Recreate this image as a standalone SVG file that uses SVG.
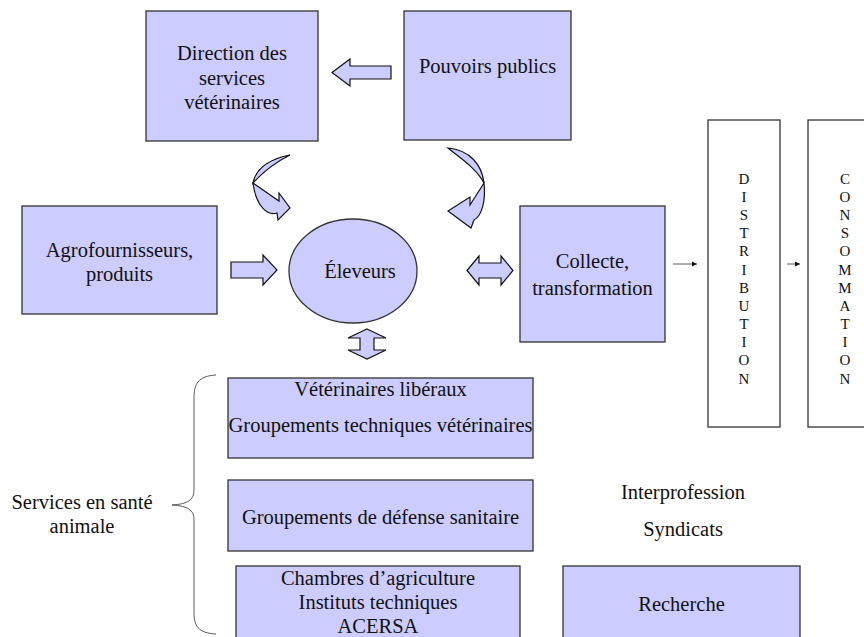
<svg xmlns="http://www.w3.org/2000/svg" width="864" height="637" viewBox="0 0 864 637">
<defs>
<style>
.box{fill:#ccccff;stroke:#333;stroke-width:1.3}
.wbox{fill:#fff;stroke:#333;stroke-width:1.3}
.arr{fill:#ccccff;stroke:#111;stroke-width:1.2;stroke-linejoin:miter}
text{font-family:"Liberation Serif","Times New Roman",serif;font-size:20.5px;fill:#111;text-anchor:middle}
.v{font-size:15px}
.ln{stroke:#333;stroke-width:0.8;fill:none}
</style>
<marker id="ah" markerWidth="6" markerHeight="6" refX="5" refY="3" orient="auto" markerUnits="userSpaceOnUse">
<path d="M0,0.5 L5,3 L0,5.5 Z" fill="#111"/>
</marker>
</defs>
<rect width="864" height="637" fill="#fff"/>

<g id="connectors">
<path class="arr" d="M391,66 L350,66 L350,59 L332,72.5 L350,86 L350,79 L391,79 Z"/>
<path class="arr" d="M231,262 L263,262 L263,255 L277,270 L263,285 L263,278 L231,278 Z"/>
<path class="arr" d="M467,270.5 L479,256 L479,263 L501,263 L501,256 L513,270.5 L501,285 L501,278 L479,278 L479,285 Z"/>
<path class="arr" d="M367,329 L386,338 L374,338 L374,350 L386,350 L367,359 L348,350 L360,350 L360,338 L348,338 Z"/>
<path class="arr" d="M290,155 C270,159 256,168 253,183 C262,173 276,162 290,155 Z"/>
<path class="arr" d="M253,183 L279,201 L279,193 L290,208 L278,220 L277,213 C268,216 256,207 253,183 Z"/>
<path class="arr" d="M448,148 C470,150 482,165 484,183 C476,168 460,158 448,148 Z"/>
<path class="arr" d="M484,183 L470,205 L470,197 L448,211 L471,228 L474,220 C482,216 486,200 484,183 Z"/>
<line class="ln" x1="673" y1="264" x2="697" y2="264" marker-end="url(#ah)"/>
<line class="ln" x1="787" y1="264" x2="800" y2="264" marker-end="url(#ah)"/>
<path class="ln" d="M216,375 C198,376 194,384 194,398 L194,490 C194,500 188,504 172,505 C188,506 194,510 194,520 L194,612 C194,626 198,633 216,634" stroke-width="1.2"/>
</g>

<g id="direction">
<rect class="box" x="146" y="11" width="172" height="130"/>
<text x="232" y="60">Direction des</text>
<text x="232" y="85">services</text>
<text x="232" y="109">vétérinaires</text>
</g>
<g id="pouvoirs">
<rect class="box" x="404" y="11" width="167" height="129"/>
<text x="487.5" y="73">Pouvoirs publics</text>
</g>
<g id="agro">
<rect class="box" x="22" y="206" width="195" height="108"/>
<text x="119.5" y="257">Agrofournisseurs,</text>
<text x="119.5" y="281">produits</text>
</g>
<g id="eleveurs">
<ellipse class="box" cx="353" cy="271" rx="64" ry="52"/>
<text x="360" y="278">Éleveurs</text>
</g>
<g id="collecte">
<rect class="box" x="520" y="206" width="145" height="136"/>
<text x="592.5" y="268">Collecte,</text>
<text x="592.5" y="295">transformation</text>
</g>
<g id="distribution">
<rect class="wbox" x="708" y="120" width="72" height="307"/>
<text class="v" x="744" y="184">D</text>
<text class="v" x="744" y="202">I</text>
<text class="v" x="744" y="220">S</text>
<text class="v" x="744" y="238">T</text>
<text class="v" x="744" y="256">R</text>
<text class="v" x="744" y="275">I</text>
<text class="v" x="744" y="293">B</text>
<text class="v" x="744" y="311">U</text>
<text class="v" x="744" y="329">T</text>
<text class="v" x="744" y="347">I</text>
<text class="v" x="744" y="365">O</text>
<text class="v" x="744" y="384">N</text>
</g>
<g id="consommation">
<rect class="wbox" x="808" y="120" width="70" height="307"/>
<text class="v" x="845" y="184">C</text>
<text class="v" x="845" y="202">O</text>
<text class="v" x="845" y="220">N</text>
<text class="v" x="845" y="238">S</text>
<text class="v" x="845" y="256">O</text>
<text class="v" x="845" y="275">M</text>
<text class="v" x="845" y="293">M</text>
<text class="v" x="845" y="311">A</text>
<text class="v" x="845" y="329">T</text>
<text class="v" x="845" y="347">I</text>
<text class="v" x="845" y="365">O</text>
<text class="v" x="845" y="384">N</text>
</g>
<g id="services-label">
<text x="82" y="509">Services en santé</text>
<text x="82" y="533">animale</text>
</g>
<g id="veterinaires">
<rect class="box" x="228" y="378" width="305" height="80"/>
<text x="380.5" y="396">Vétérinaires libéraux</text>
<text x="380.5" y="432">Groupements techniques vétérinaires</text>
</g>
<g id="gds">
<rect class="box" x="228" y="480" width="305" height="71"/>
<text x="380.5" y="524">Groupements de défense sanitaire</text>
</g>
<g id="chambres">
<rect class="box" x="236" y="566" width="284" height="80"/>
<text x="378" y="585">Chambres d’agriculture</text>
<text x="378" y="609">Instituts techniques</text>
<text x="378" y="633">ACERSA</text>
</g>
<g id="recherche">
<rect class="box" x="563" y="566" width="237" height="80"/>
<text x="681.5" y="611">Recherche</text>
</g>
<g id="interprofession">
<text x="683" y="499">Interprofession</text>
</g>
<g id="syndicats">
<text x="683" y="536">Syndicats</text>
</g>
</svg>
